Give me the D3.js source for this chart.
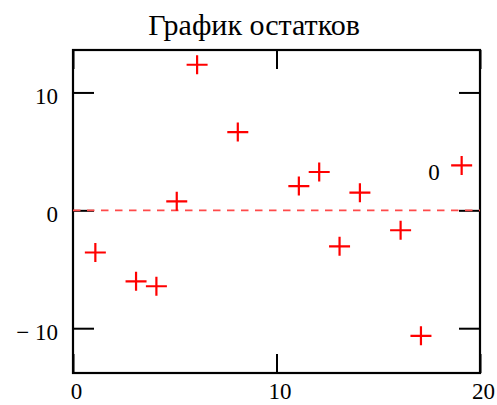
<!DOCTYPE html>
<html>
<head>
<meta charset="utf-8">
<script src="https://cdn.jsdelivr.net/npm/d3@7/dist/d3.min.js"></script>
<style>
  html, body { margin: 0; padding: 0; background: #fff; }
  svg { display: block; }
  text { font-family: "Liberation Serif", "Times New Roman", serif; }
</style>
</head>
<body>
<script>
// Residuals of the fitted model, plotted against observation index
const titleText = "График остатков";
const obsIndex  = [1, 3, 4, 5, 6, 8, 11, 12, 13, 14, 16, 17, 19];
const residuals = [-3.58, -6.02, -6.44, 0.76, 12.35, 6.64, 2.06, 3.25, -3.05, 1.5, -1.69, -10.65, 3.81];
const xTicks = [0, 10, 20];
const yTicks = [-10, 0, 10];
const refLevel = 0;   // horizontal reference line
const xDomain = [0, 20];
const yDomain = [-13.8, 13.6];

const W = 497, H = 405;
const box = { left: 73, right: 480, top: 50, bottom: 373 };
const labelSize = 23;

const svg = d3.select("body").append("svg")
  .attr("width", W).attr("height", H);

const x = d3.scaleLinear().domain(xDomain).range([box.left, box.right]);
const y = d3.scaleLinear().domain(yDomain).range([box.bottom, box.top]);

const fmt = v => v < 0 ? "\u2212 " + Math.abs(v) : String(v);

// Title
svg.append("text")
  .attr("x", 254).attr("y", 35)
  .attr("text-anchor", "middle")
  .attr("font-size", 30)
  .text(titleText);

// Axes: inward ticks on all four sides, labels on left and bottom only
function styleAxis(g) {
  g.select(".domain").remove();
  g.selectAll(".tick line").attr("stroke", "#000").attr("stroke-width", 2);
  g.selectAll(".tick text").attr("font-size", labelSize).attr("fill", "#000")
    .attr("font-family", "\"Liberation Serif\", \"Times New Roman\", serif");
}

svg.append("g")
  .attr("transform", `translate(${box.left},0)`)
  .call(d3.axisLeft(y).tickValues(yTicks).tickSize(-21).tickPadding(15).tickFormat(fmt))
  .call(styleAxis)
  .call(g => g.selectAll(".tick text").attr("dy", "0.5em"));

svg.append("g")
  .attr("transform", `translate(${box.right},0)`)
  .call(d3.axisRight(y).tickValues(yTicks).tickSize(-21).tickFormat(""))
  .call(styleAxis);

svg.append("g")
  .attr("transform", `translate(0,${box.bottom})`)
  .call(d3.axisBottom(x).tickValues(xTicks).tickSize(-19).tickPadding(10).tickFormat(d3.format("d")))
  .call(styleAxis)
  .call(g => g.selectAll(".tick text").attr("dx", 3));

svg.append("g")
  .attr("transform", `translate(0,${box.top})`)
  .call(d3.axisTop(x).tickValues(xTicks).tickSize(-19).tickFormat(""))
  .call(styleAxis);

// Plot frame
svg.append("rect")
  .attr("x", box.left).attr("y", box.top)
  .attr("width", box.right - box.left).attr("height", box.bottom - box.top)
  .attr("fill", "none").attr("stroke", "#000").attr("stroke-width", 2.2);

// Dashed reference line at zero
svg.append("line")
  .attr("x1", x(xDomain[0])).attr("x2", x(xDomain[1]))
  .attr("y1", y(refLevel)).attr("y2", y(refLevel))
  .attr("stroke", "#ff4a4a").attr("stroke-width", 1.7)
  .attr("stroke-dasharray", "7.5,6.5");

svg.append("text")
  .attr("x", x(xDomain[1]) - 46).attr("y", y(refLevel) - 30)
  .attr("text-anchor", "middle")
  .attr("font-size", labelSize)
  .text(String(refLevel));

// Residual markers (crosses)
svg.append("g").selectAll("path")
  .data(obsIndex.map((d, i) => [d, residuals[i]]))
  .join("path")
  .attr("transform", d => `translate(${x(d[0]) + 2},${y(d[1])})`)
  .attr("d", "M-10.5,0H10.5M0,-9.5V9.5")
  .attr("stroke", "#ff0000").attr("stroke-width", 2.2)
  .attr("fill", "none");
</script>
</body>
</html>
